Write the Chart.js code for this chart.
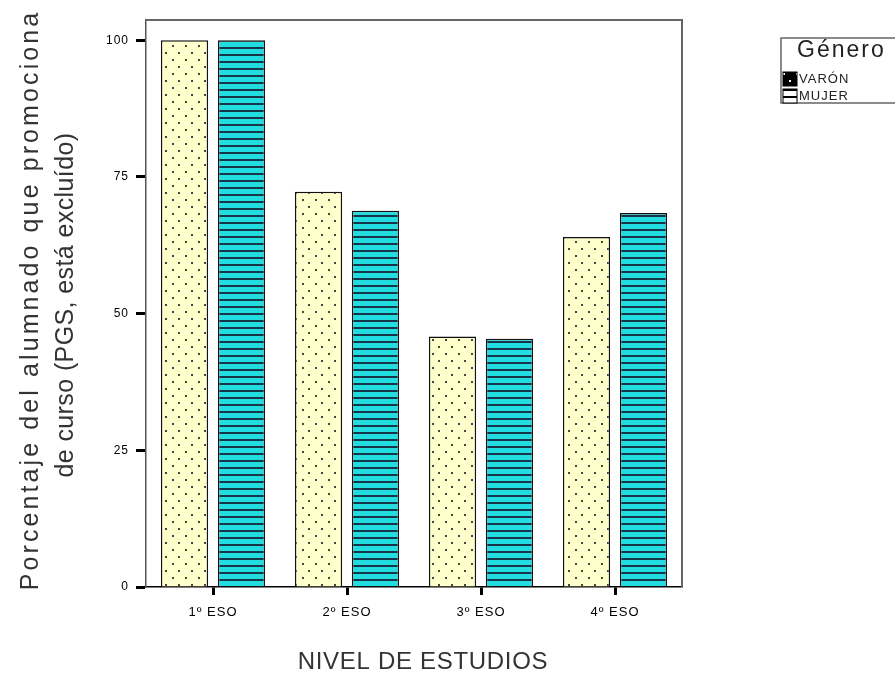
<!DOCTYPE html>
<html>
<head>
<meta charset="utf-8">
<script src="https://cdn.jsdelivr.net/npm/chart.js@4"></script>
<style>
  html, body { margin: 0; padding: 0; background: #fff; }
  #wrap { width: 895px; height: 673px; }
</style>
</head>
<body>
<div id="wrap"><canvas id="chart" width="895" height="673"></canvas></div>
<script>
const niveles = ['1º ESO', '2º ESO', '3º ESO', '4º ESO']
const varon = [100, 72.3, 45.8, 64.0]
const mujer = [100, 68.8, 45.4, 68.4]
const yTicks = [0, 25, 50, 75, 100]
const yTitle = ['Porcentaje del alumnado que promociona', 'de curso (PGS, está excluído)']
const xTitle = 'NIVEL DE ESTUDIOS'

const FONT = '"Liberation Sans", Arial, sans-serif'

// dotted fill for VARÓN bars
function dotPattern(bg, fg) {
  const c = document.createElement('canvas')
  c.width = 13
  c.height = 14
  const g = c.getContext('2d')
  g.fillStyle = bg
  g.fillRect(0, 0, 13, 14)
  g.fillStyle = fg
  g.fillRect(3, 3, 2, 2)
  g.fillRect(9, 10, 2, 2)
  return g.createPattern(c, 'repeat')
}

// horizontal stripes for MUJER bars
function stripePattern(bg, fg) {
  const c = document.createElement('canvas')
  c.width = 8
  c.height = 7
  const g = c.getContext('2d')
  g.fillStyle = bg
  g.fillRect(0, 0, 8, 7)
  g.fillStyle = fg
  g.fillRect(0, 5, 8, 2)
  return g.createPattern(c, 'repeat')
}

const frame = {
  id: 'frame',
  beforeDraw(chart) {
    // the old rendering spreads its letters a little
    chart.ctx.letterSpacing = '1px'
  },
  afterDraw(chart) {
    const { ctx, chartArea: a } = chart
    ctx.save()
    ctx.strokeStyle = '#666'
    ctx.lineWidth = 2
    ctx.beginPath()
    ctx.moveTo(a.left, a.top)
    ctx.lineTo(a.right, a.top)
    ctx.lineTo(a.right, a.bottom)
    ctx.stroke()

    // axis titles
    ctx.fillStyle = '#333'
    ctx.textAlign = 'center'
    ctx.textBaseline = 'middle'
    ctx.font = '24px ' + FONT
    ctx.letterSpacing = '0.7px'
    ctx.fillText(xTitle, 423, 662)

    ctx.font = '25px ' + FONT
    ctx.save()
    ctx.translate(31, 300)
    ctx.rotate(-Math.PI / 2)
    ctx.letterSpacing = '3.1px'
    ctx.fillText(yTitle[0], 0, 0)
    ctx.restore()
    ctx.save()
    ctx.translate(66, 305)
    ctx.rotate(-Math.PI / 2)
    ctx.letterSpacing = '0.4px'
    ctx.fillText(yTitle[1], 0, 0)
    ctx.restore()

    // legend box
    ctx.textAlign = 'left'
    ctx.strokeStyle = '#666'
    ctx.lineWidth = 1.5
    ctx.beginPath()
    ctx.moveTo(895, 38)
    ctx.lineTo(781, 38)
    ctx.lineTo(781, 103)
    ctx.lineTo(895, 103)
    ctx.stroke()
    ctx.fillStyle = '#222'
    ctx.font = '23px ' + FONT
    ctx.letterSpacing = '2px'
    ctx.fillText('Género', 797, 51)
    ctx.font = '13px ' + FONT
    ctx.letterSpacing = '1px'
    const items = [
      { label: 'VARÓN', fill: dotPattern('#000', '#fff'), y: 79 },
      { label: 'MUJER', fill: stripePattern('#fff', '#000'), y: 96 }
    ]
    items.forEach((it) => {
      ctx.fillStyle = it.fill
      ctx.fillRect(783, it.y - 7, 14, 14)
      ctx.strokeStyle = '#000'
      ctx.lineWidth = 1
      ctx.strokeRect(783, it.y - 7, 14, 14)
      ctx.fillStyle = '#222'
      ctx.fillText(it.label, 799, it.y)
    })
    ctx.restore()
  }
}

new Chart(document.getElementById('chart').getContext('2d'), {
  type: 'bar',
  data: {
    labels: niveles,
    datasets: [
      {
        label: 'VARÓN',
        data: varon,
        backgroundColor: dotPattern('#FFFFCC', '#444'),
        borderColor: '#111',
        borderWidth: 1.5
      },
      {
        label: 'MUJER',
        data: mujer,
        backgroundColor: stripePattern('#22DDE0', '#163548'),
        borderColor: '#111',
        borderWidth: 1.5
      }
    ]
  },
  options: {
    responsive: false,
    animation: false,
    categoryPercentage: 0.85,
    barPercentage: 0.83,
    layout: { padding: { top: 20, right: 213, left: 0, bottom: 0 } },
    plugins: {
      legend: { display: false },
      tooltip: { enabled: false }
    },
    scales: {
      x: {
        grid: {
          display: true,
          drawOnChartArea: false,
          offset: false,
          tickLength: 8,
          tickWidth: 3,
          tickColor: '#000'
        },
        border: { display: true, color: '#000', width: 1.5 },
        ticks: {
          color: '#000',
          padding: 10,
          font: { family: FONT, size: 13 }
        },
        afterFit(scale) { scale.height = 86 }
      },
      y: {
        min: 0,
        max: 103.7,
        grid: {
          display: true,
          drawOnChartArea: false,
          tickLength: 10,
          tickWidth: 3,
          tickColor: '#000'
        },
        border: { display: true, color: '#555', width: 1.5 },
        afterBuildTicks(scale) {
          scale.ticks = yTicks.map((v) => ({ value: v }))
        },
        ticks: {
          color: '#000',
          padding: 7,
          font: { family: FONT, size: 12 }
        },
        afterFit(scale) { scale.width = 146 }
      }
    }
  },
  plugins: [frame]
})
</script>
</body>
</html>
